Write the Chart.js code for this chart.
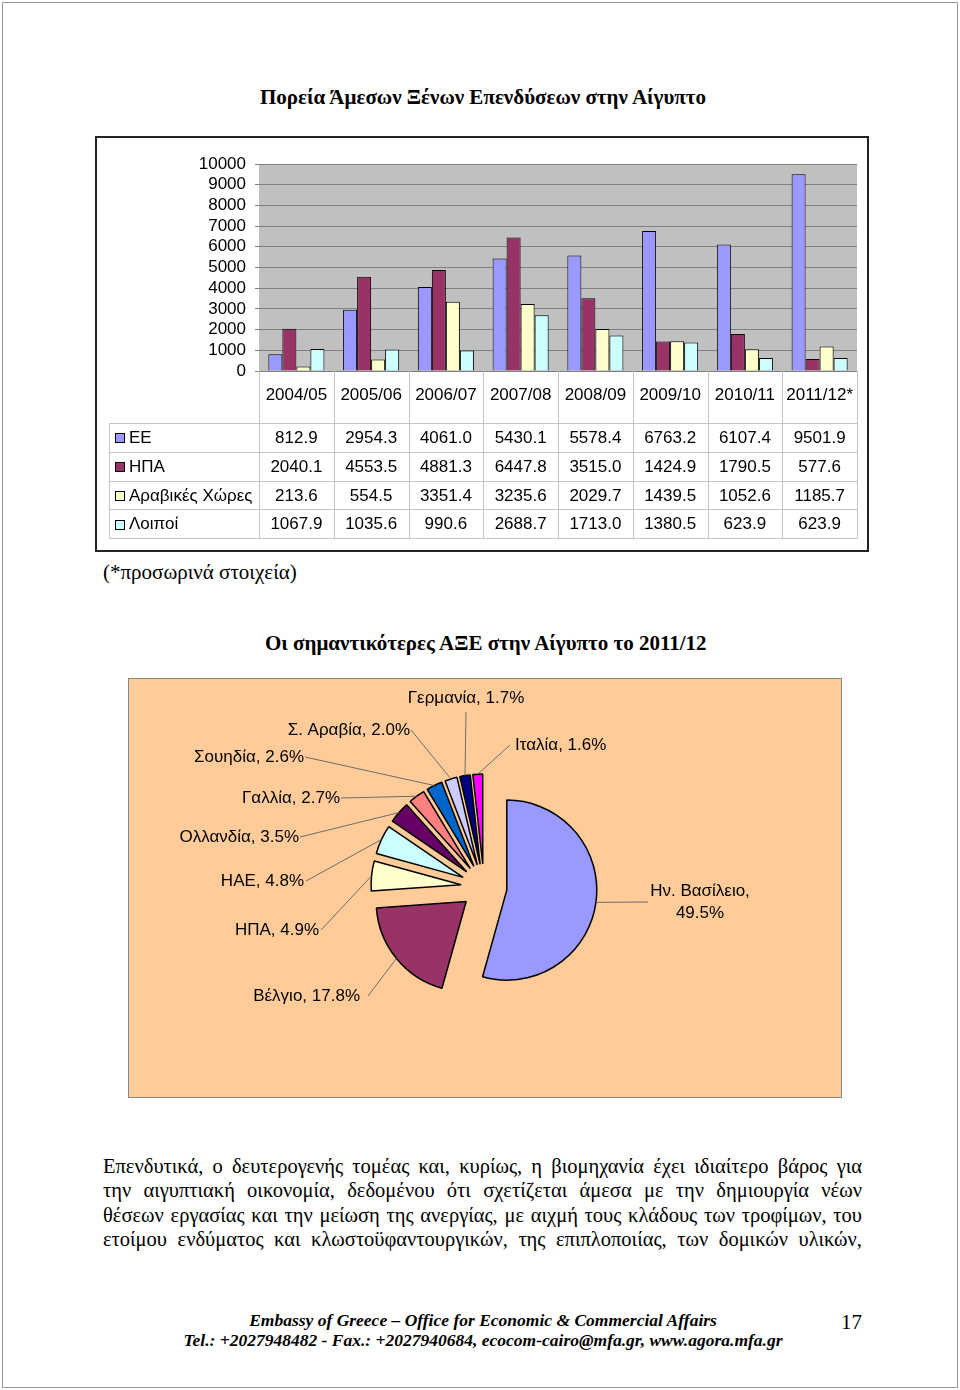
<!DOCTYPE html>
<html>
<head>
<meta charset="utf-8">
<script src="https://cdn.jsdelivr.net/npm/chart.js@4.4.1/dist/chart.umd.min.js"></script>
<style>
  body { margin: 0; background: #fff; }
  #page { position: relative; width: 960px; height: 1390px; overflow: hidden; font-family: "Liberation Serif", "Times New Roman", serif; color: #000; }
  .frame { position: absolute; left: 2px; top: 2px; width: 954px; height: 1384px; border: 1px solid #999; }
  .txt { position: absolute; white-space: nowrap; line-height: 22px; }
  .title { font-weight: bold; font-size: 21px; }
  #barBox { position: absolute; left: 95px; top: 136px; width: 770px; height: 412px; border: 2px solid #222; background: #fff; }
  #pieBox { position: absolute; left: 128px; top: 678px; width: 712px; height: 418px; border: 1px solid #888; background: #ffcc99; }
  .para { position: absolute; left: 103px; width: 759px; font-size: 20.5px; line-height: 24px; text-align: justify; text-align-last: justify; white-space: nowrap; }
  .foot { position: absolute; left: 0; width: 966px; text-align: center; font-weight: bold; font-style: italic; font-size: 17.5px; line-height: 20px; }
</style>
</head>
<body>
<div id="page">
  <div class="frame"></div>
  <div class="txt title" style="left:260px; top:86px;">Πορεία Άμεσων Ξένων Επενδύσεων στην Αίγυπτο</div>

  <div id="barBox"><canvas id="barChart" width="770" height="412"></canvas></div>

  <div class="txt" style="left:103px; top:561px; font-size:21px;">(*προσωρινά στοιχεία)</div>

  <div class="txt title" style="left:265px; top:632px;">Οι σημαντικότερες ΑΞΕ στην Αίγυπτο το 2011/12</div>

  <div id="pieBox"><canvas id="pieChart" width="712" height="418"></canvas></div>

  <div class="para" style="top:1154px;">Επενδυτικά, ο δευτερογενής τομέας και, κυρίως, η βιομηχανία έχει ιδιαίτερο βάρος για</div>
  <div class="para" style="top:1178px;">την αιγυπτιακή οικονομία, δεδομένου ότι σχετίζεται άμεσα με την δημιουργία νέων</div>
  <div class="para" style="top:1203px;">θέσεων εργασίας και την μείωση της ανεργίας, με αιχμή τους κλάδους των τροφίμων, του</div>
  <div class="para" style="top:1227px;">ετοίμου ενδύματος και κλωστοϋφαντουργικών, της επιπλοποιίας, των δομικών υλικών,</div>

  <div class="foot" style="top:1310px;">Embassy of Greece – Office for Economic &amp; Commercial Affairs</div>
  <div class="foot" style="top:1330px;">Tel.: +2027948482 - Fax.: +2027940684, ecocom-cairo@mfa.gr, www.agora.mfa.gr</div>
  <div class="txt" style="left:841px; top:1311px; font-size:21px; line-height:22px;">17</div>
</div>

<script>
// bar chart data (εκατ. δολ.)
const categories = ['2004/05', '2005/06', '2006/07', '2007/08', '2008/09', '2009/10', '2010/11', '2011/12*'];
const seriesNames = ['ΕΕ', 'ΗΠΑ', 'Αραβικές Χώρες', 'Λοιποί'];
const euValues = [812.9, 2954.3, 4061.0, 5430.1, 5578.4, 6763.2, 6107.4, 9501.9];
const usaValues = [2040.1, 4553.5, 4881.3, 6447.8, 3515.0, 1424.9, 1790.5, 577.6];
const arabValues = [213.6, 554.5, 3351.4, 3235.6, 2029.7, 1439.5, 1052.6, 1185.7];
const otherValues = [1067.9, 1035.6, 990.6, 2688.7, 1713.0, 1380.5, 623.9, 623.9];
const yMax = 10000;
const yStep = 1000;

// pie data (2011/12)
const pieNames = ['Ην. Βασίλειο', 'Βέλγιο', 'ΗΠΑ', 'ΗΑΕ', 'Ολλανδία', 'Γαλλία', 'Σουηδία', 'Σ. Αραβία', 'Γερμανία', 'Ιταλία'];
const pieShares = [49.5, 17.8, 4.9, 4.8, 3.5, 2.7, 2.6, 2.0, 1.7, 1.6];

const seriesColors = ['#9999ff', '#993366', '#ffffcc', '#ccffff'];
const pieColors = ['#9999ff', '#993366', '#ffffcc', '#ccffff', '#660066', '#ff8080', '#0066cc', '#ccccff', '#000080', '#ff00ff'];
const sans = '"Liberation Sans", Arial, Helvetica, sans-serif';

// shrink a paragraph line until it fits its box, justify does the rest
document.querySelectorAll('.para').forEach((el) => {
    let size = 20.5;
    el.style.textAlignLast = 'left';
    while (el.scrollWidth > el.clientWidth && size > 17) {
        size -= 0.25;
        el.style.fontSize = size + 'px';
    }
    el.style.textAlignLast = 'justify';
});

// gray plot background
const plotBg = {
    id: 'plotBg',
    beforeDraw(chart) {
        const { ctx, chartArea: a } = chart;
        ctx.save();
        ctx.fillStyle = '#c0c0c0';
        ctx.fillRect(a.left, a.top, a.width, a.height);
        ctx.restore();
    }
};

// data table under the bars
const dataTable = {
    id: 'dataTable',
    afterDraw(chart) {
        const { ctx, chartArea: a } = chart;
        const x = chart.scales.x;
        const colW = x.getPixelForValue(1) - x.getPixelForValue(0);
        const headTop = a.bottom;
        const tableTop = a.bottom + 52;
        const rowH = 28.75;
        const left = 12.5;
        const rows = [euValues, usaValues, arabValues, otherValues];
        const tableBottom = tableTop + rowH * rows.length;

        ctx.save();
        ctx.strokeStyle = '#c4c4c4';
        ctx.lineWidth = 1;
        ctx.beginPath();
        for (let i = 0; i <= categories.length; i++) {
            const px = Math.round(x.getPixelForValue(0) - colW / 2 + i * colW) + 0.5;
            ctx.moveTo(px, headTop);
            ctx.lineTo(px, tableBottom);
        }
        for (let r = 0; r <= rows.length; r++) {
            const py = Math.round(tableTop + r * rowH) + 0.5;
            ctx.moveTo(left, py);
            ctx.lineTo(Math.round(a.right) + 0.5, py);
        }
        ctx.moveTo(left, Math.round(tableTop) + 0.5);
        ctx.lineTo(left, Math.round(tableBottom) + 0.5);
        ctx.stroke();

        ctx.fillStyle = '#000';
        ctx.font = '17px ' + sans;
        ctx.textBaseline = 'middle';
        ctx.textAlign = 'center';
        categories.forEach((c, i) => ctx.fillText(c, x.getPixelForValue(i), headTop + 24));

        rows.forEach((vals, r) => {
            const cy = tableTop + (r + 0.5) * rowH;
            ctx.textAlign = 'center';
            vals.forEach((v, i) => ctx.fillText(v.toFixed(1), x.getPixelForValue(i), cy + 1));
            ctx.fillStyle = seriesColors[r];
            ctx.fillRect(18.5, Math.round(cy - 4) + 0.5, 9, 9);
            ctx.strokeStyle = '#000';
            ctx.strokeRect(18.5, Math.round(cy - 4) + 0.5, 9, 9);
            ctx.fillStyle = '#000';
            ctx.textAlign = 'left';
            ctx.fillText(seriesNames[r], 32, cy + 1);
        });
        ctx.restore();
    }
};

new Chart(document.getElementById('barChart').getContext('2d'), {
    type: 'bar',
    data: {
        labels: categories,
        datasets: [euValues, usaValues, arabValues, otherValues].map((vals, i) => ({
            label: seriesNames[i],
            data: vals,
            backgroundColor: seriesColors[i],
            borderColor: '#000',
            borderWidth: 1,
            categoryPercentage: 0.75,
            barPercentage: 1
        }))
    },
    options: {
        responsive: false,
        animation: false,
        layout: { padding: { left: 0, top: 26, right: 10, bottom: 179 } },
        plugins: { legend: { display: false }, tooltip: { enabled: false } },
        scales: {
            x: { display: false },
            y: {
                min: 0,
                max: yMax,
                afterFit: (scale) => { scale.width = 162; },
                ticks: {
                    stepSize: yStep,
                    maxTicksLimit: 11,
                    color: '#000',
                    font: { family: sans, size: 17, lineHeight: 1 },
                    padding: 9,
                    callback: (v) => String(v)
                },
                afterBuildTicks: (scale) => {
                    const t = [];
                    for (let v = 0; v <= yMax; v += yStep) t.push({ value: v });
                    scale.ticks = t;
                },
                grid: { color: '#808080', tickColor: '#808080', tickLength: 4 },
                border: { display: false }
            }
        }
    },
    plugins: [plotBg, dataTable]
});

// exploded pie: each slice pushed outward along its middle angle
const explodeBy = 23;
const explode = {
    id: 'explode',
    beforeDatasetDraw(chart, args) {
        const ctx = chart.ctx;
        args.meta.data.forEach((arc) => {
            const mid = (arc.startAngle + arc.endAngle) / 2;
            ctx.save();
            ctx.translate(Math.cos(mid) * explodeBy, Math.sin(mid) * explodeBy);
            arc.draw(ctx);
            ctx.restore();
        });
        return false;
    }
};

// label spots (canvas px) and leader line starts
const labelSpots = [
    { x: 571, y: 212, align: 'center', lx: 519, ly: 223, two: true },
    { x: 231, y: 317, align: 'right', lx: 239, ly: 317 },
    { x: 190, y: 251, align: 'right', lx: 192, ly: 251 },
    { x: 175, y: 202, align: 'right', lx: 177, ly: 202 },
    { x: 170, y: 158, align: 'right', lx: 171, ly: 158 },
    { x: 211, y: 119, align: 'right', lx: 212, ly: 119 },
    { x: 175, y: 78, align: 'right', lx: 176, ly: 78 },
    { x: 281, y: 51, align: 'right', lx: 282, ly: 51 },
    { x: 337, y: 19, align: 'center', lx: 337, ly: 33 },
    { x: 386, y: 66, align: 'left', lx: 381, ly: 66 }
];

const pieLabels = {
    id: 'pieLabels',
    afterDraw(chart) {
        const ctx = chart.ctx;
        const arcs = chart.getDatasetMeta(0).data;
        ctx.save();
        ctx.font = '17px ' + sans;
        ctx.textBaseline = 'middle';
        arcs.forEach((arc, i) => {
            const s = labelSpots[i];
            const mid = (arc.startAngle + arc.endAngle) / 2;
            const r = arc.outerRadius + explodeBy;
            ctx.strokeStyle = '#6b6b6b';
            ctx.lineWidth = 1;
            ctx.beginPath();
            ctx.moveTo(s.lx, s.ly);
            ctx.lineTo(arc.x + Math.cos(mid) * r, arc.y + Math.sin(mid) * r);
            ctx.stroke();
            ctx.fillStyle = '#000';
            ctx.textAlign = s.align;
            const pct = pieShares[i].toFixed(1) + '%';
            if (s.two) {
                ctx.fillText(pieNames[i] + ',', s.x, s.y);
                ctx.fillText(pct, s.x, s.y + 22);
            } else {
                ctx.fillText(pieNames[i] + ', ' + pct, s.x, s.y);
            }
        });
        ctx.restore();
    }
};

new Chart(document.getElementById('pieChart').getContext('2d'), {
    type: 'pie',
    data: {
        labels: pieNames,
        datasets: [{
            data: pieShares,
            backgroundColor: pieColors,
            borderColor: '#000',
            borderWidth: 1.5
        }]
    },
    options: {
        responsive: false,
        animation: false,
        radius: 90,
        layout: { padding: { right: 2, bottom: 2 } },
        plugins: { legend: { display: false }, tooltip: { enabled: false } }
    },
    plugins: [explode, pieLabels]
});
</script>
</body>
</html>
